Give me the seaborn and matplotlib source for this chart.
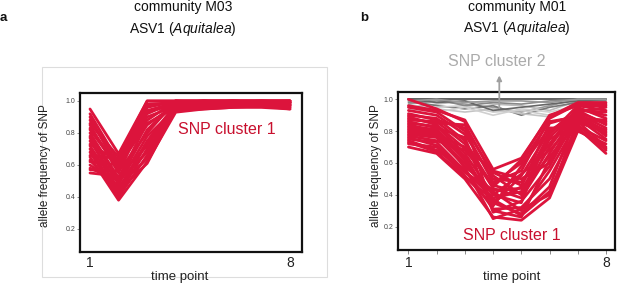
import numpy as np
import pandas as pd
import matplotlib
matplotlib.use("Agg")
import matplotlib.pyplot as plt
import seaborn as sns
from matplotlib.patches import Rectangle

# ---------------- data ----------------
time_points = [1, 2, 3, 4, 5, 6, 7, 8]

# panel a: community M03, SNP cluster 1
m03_cluster1 = [
    [0.95, 0.67, 1.00, 1.00, 1.00, 1.00, 1.00, 1.00],
    [0.92, 0.62, 0.98, 0.99, 0.99, 1.00, 0.99, 0.99],
    [0.88, 0.60, 0.96, 1.00, 0.98, 0.99, 0.99, 0.98],
    [0.85, 0.55, 0.93, 0.98, 1.00, 0.98, 0.98, 0.97],
    [0.82, 0.58, 0.90, 0.97, 0.97, 0.97, 0.97, 0.96],
    [0.80, 0.52, 0.86, 0.96, 0.99, 0.99, 1.00, 1.00],
    [0.78, 0.50, 0.82, 0.99, 1.00, 0.98, 0.99, 0.99],
    [0.75, 0.48, 0.78, 0.95, 0.96, 0.97, 0.97, 0.95],
    [0.72, 0.45, 0.75, 0.98, 0.99, 1.00, 0.99, 0.98],
    [0.70, 0.42, 0.70, 0.94, 0.95, 0.96, 0.97, 0.96],
    [0.68, 0.40, 0.66, 0.97, 0.98, 0.99, 0.98, 0.97],
    [0.65, 0.38, 0.62, 0.93, 0.95, 0.96, 0.96, 0.95],
    [0.63, 0.44, 0.61, 0.95, 0.97, 0.98, 0.98, 0.99],
    [0.60, 0.47, 0.64, 0.96, 0.98, 0.97, 0.99, 0.98],
    [0.58, 0.50, 0.68, 0.99, 1.00, 1.00, 1.00, 1.00],
    [0.55, 0.53, 0.72, 0.97, 0.99, 0.99, 0.99, 0.99],
    [0.57, 0.56, 0.80, 1.00, 1.00, 1.00, 1.00, 1.00],
    [0.62, 0.60, 0.85, 0.98, 0.99, 0.98, 0.99, 0.97],
    [0.66, 0.64, 0.92, 1.00, 0.99, 1.00, 1.00, 0.99],
    [0.90, 0.57, 0.97, 0.99, 1.00, 0.99, 1.00, 1.00],
    [0.86, 0.65, 1.00, 1.00, 1.00, 1.00, 0.99, 1.00],
    [0.77, 0.43, 0.74, 0.96, 0.97, 0.99, 0.98, 0.97],
    [0.83, 0.59, 0.88, 1.00, 1.00, 1.00, 1.00, 0.99],
    [0.73, 0.62, 0.94, 0.99, 0.98, 1.00, 0.99, 0.98],
]

# panel b: community M01, SNP cluster 1 (red)
m01_cluster1 = [
    [1.00, 0.94, 0.86, 0.30, 0.26, 0.62, 0.92, 0.95],
    [0.95, 0.92, 0.80, 0.48, 0.55, 0.88, 0.97, 0.97],
    [0.90, 0.88, 0.74, 0.45, 0.62, 0.90, 0.96, 0.93],
    [0.88, 0.85, 0.84, 0.52, 0.40, 0.70, 0.94, 0.90],
    [0.85, 0.83, 0.66, 0.40, 0.35, 0.80, 0.92, 0.85],
    [0.82, 0.80, 0.62, 0.36, 0.45, 0.85, 0.90, 0.80],
    [0.80, 0.78, 0.70, 0.55, 0.50, 0.60, 0.88, 0.75],
    [0.78, 0.76, 0.58, 0.42, 0.30, 0.55, 0.86, 0.70],
    [0.75, 0.73, 0.55, 0.38, 0.42, 0.75, 0.84, 0.68],
    [0.72, 0.70, 0.52, 0.33, 0.58, 0.82, 0.82, 0.66],
    [0.70, 0.66, 0.50, 0.26, 0.24, 0.38, 0.80, 0.72],
    [0.93, 0.90, 0.78, 0.50, 0.48, 0.72, 0.95, 0.88],
    [0.87, 0.86, 0.72, 0.44, 0.38, 0.66, 0.93, 0.92],
    [0.83, 0.81, 0.64, 0.35, 0.28, 0.45, 0.91, 0.82],
    [0.77, 0.74, 0.68, 0.47, 0.60, 0.86, 0.89, 0.78],
    [0.74, 0.68, 0.56, 0.31, 0.32, 0.50, 0.83, 0.74],
    [0.91, 0.87, 0.82, 0.54, 0.46, 0.78, 0.96, 0.96],
    [0.79, 0.77, 0.60, 0.40, 0.53, 0.68, 0.87, 0.86],
    [0.86, 0.82, 0.76, 0.29, 0.36, 0.58, 0.90, 0.77],
    [0.76, 0.71, 0.54, 0.43, 0.44, 0.64, 0.85, 0.81],
    [0.96, 0.93, 0.87, 0.56, 0.63, 0.89, 0.98, 0.98],
    [0.73, 0.67, 0.51, 0.37, 0.27, 0.42, 0.81, 0.69],
    [0.89, 0.84, 0.69, 0.46, 0.41, 0.76, 0.93, 0.84],
    [0.81, 0.79, 0.63, 0.34, 0.52, 0.80, 0.88, 0.87],
    [0.84, 0.80, 0.57, 0.25, 0.31, 0.40, 0.86, 0.79],
]

# panel b: community M01, SNP cluster 2 (grey)
m01_cluster2 = [
    [1.00, 1.00, 1.00, 1.00, 1.00, 1.00, 1.00, 1.00],
    [0.97, 0.99, 0.97, 0.95, 0.92, 0.96, 1.00, 1.00],
    [0.95, 0.97, 0.99, 0.97, 0.96, 0.93, 0.99, 0.99],
    [0.99, 0.96, 0.94, 0.96, 0.90, 0.95, 0.98, 1.00],
    [0.93, 0.95, 0.96, 0.92, 0.93, 0.90, 0.97, 0.98],
    [0.98, 1.00, 0.96, 0.98, 0.97, 0.99, 1.00, 0.99],
    [0.96, 0.94, 0.92, 0.94, 0.91, 0.89, 0.98, 0.97],
    [1.00, 0.98, 0.99, 0.93, 0.95, 0.97, 0.99, 1.00],
    [0.94, 0.92, 0.95, 0.90, 0.94, 0.92, 0.96, 0.98],
    [0.99, 1.00, 0.98, 0.99, 0.99, 0.98, 1.00, 1.00],
]
cluster2_shades = ["#444444", "#9a9a9a", "#bbbbbb", "#777777", "#cccccc",
                   "#888888", "#c4c4c4", "#666666", "#d0d0d0", "#999999"]

y_ticks = [0.2, 0.4, 0.6, 0.8, 1.0]
y_ticklabels = ["0.2", "0.4", "0.6", "0.8", "1.0"]


def to_long(series_list):
    rows = []
    for i, vals in enumerate(series_list):
        for t, v in zip(time_points, vals):
            rows.append({"snp": i, "time": t, "freq": v})
    return pd.DataFrame(rows)


df_a = to_long(m03_cluster1)
df_b1 = to_long(m01_cluster1)
df_b2 = to_long(m01_cluster2)

# ---------------- style ----------------
sns.set_theme(style="white")
plt.rcParams["font.family"] = ["Liberation Sans", "DejaVu Sans"]
plt.rcParams["mathtext.fontset"] = "custom"
plt.rcParams["mathtext.it"] = "Liberation Sans:italic"
plt.rcParams["mathtext.rm"] = "Liberation Sans"

RED = "#dc143c"
W, H = 617, 285
fig = plt.figure(figsize=(W / 100, H / 100), dpi=100)


def fx(px):
    return px / W


def fy(py):
    return 1 - py / H


# light grey frame around panel a
fig.patches.append(Rectangle((fx(42), fy(277)), fx(327) - fx(42), fy(67) - fy(277),
                             transform=fig.transFigure, fill=False,
                             edgecolor="#dddddd", linewidth=0.8, zorder=0))

ax_a = fig.add_axes([fx(80), fy(252), fx(302) - fx(80), fy(93) - fy(252)])
ax_b = fig.add_axes([fx(398), fy(250), fx(615) - fx(398), fy(92) - fy(250)])

# panel a lines
sns.lineplot(data=df_a, x="time", y="freq", units="snp", estimator=None,
             color=RED, linewidth=2.0, ax=ax_a, legend=False)

# panel b lines
sns.lineplot(data=df_b2, x="time", y="freq", units="snp", hue="snp",
             estimator=None, palette=cluster2_shades, linewidth=1.2,
             ax=ax_b, legend=False)
sns.lineplot(data=df_b1, x="time", y="freq", units="snp", estimator=None,
             color=RED, linewidth=2.0, ax=ax_b, legend=False)

for ax in (ax_a, ax_b):
    for s in ax.spines.values():
        s.set_visible(True)
        s.set_color("#111111")
        s.set_linewidth(1.6)
    ax.set_yticks(y_ticks)
    ax.set_yticklabels(y_ticklabels)
    ax.tick_params(axis="y", left=True, length=2.5, width=0.6, color="#777777",
                   labelsize=5, labelcolor="#444444", pad=1)
    ax.set_xlabel("")
    ax.set_ylabel("")

ax_a.set_xlim(0.65, 8.42)
ax_a.set_ylim(0.056, 1.05)
ax_a.set_xticks([1, 8])
ax_a.set_xticklabels(["1", "8"])
ax_a.tick_params(axis="x", bottom=False, length=0, labelsize=10, pad=3,
                 labelcolor="#222222")

ax_b.set_xlim(0.63, 8.32)
ax_b.set_ylim(0.053, 1.046)
ax_b.set_xticks(time_points)
ax_b.set_xticklabels(["1", "", "", "", "", "", "", "8"])
ax_b.tick_params(axis="x", bottom=True, length=3, width=0.6, color="#777777",
                 labelsize=10, pad=1.5, labelcolor="#222222")

# axis labels
fig.text(fx(45), fy(166), "allele frequency of SNP", rotation=90,
         ha="center", va="center", fontsize=8.5, color="#222222")
fig.text(fx(376), fy(166), "allele frequency of SNP", rotation=90,
         ha="center", va="center", fontsize=8.5, color="#222222")
fig.text(fx(180), fy(277), "time point", ha="center", va="center",
         fontsize=9.5, color="#222222")
fig.text(fx(512), fy(277), "time point", ha="center", va="center",
         fontsize=9.5, color="#222222")

# titles
fig.text(fx(183), fy(7), "community M03", ha="center", va="center",
         fontsize=10, color="#111111")
fig.text(fx(183), fy(29), "ASV1 ($\\it{Aquitalea}$)", ha="center", va="center",
         fontsize=10, color="#111111")
fig.text(fx(517), fy(7), "community M01", ha="center", va="center",
         fontsize=10, color="#111111")
fig.text(fx(517), fy(28), "ASV1 ($\\it{Aquitalea}$)", ha="center", va="center",
         fontsize=10, color="#111111")

# panel letters
fig.text(fx(0), fy(18), "a", ha="left", va="center", fontsize=9.5,
         fontweight="bold", color="#111111")
fig.text(fx(360), fy(18), "b", ha="left", va="center", fontsize=9.5,
         fontweight="bold", color="#111111")

# cluster annotations
fig.text(fx(227), fy(129), "SNP cluster 1", ha="center", va="center",
         fontsize=11.5, color="#c8102e")
fig.text(fx(512), fy(235), "SNP cluster 1", ha="center", va="center",
         fontsize=11.5, color="#c8102e")
fig.text(fx(497), fy(62), "SNP cluster 2", ha="center", va="center",
         fontsize=11.5, color="#ababab")
ax_b.annotate("", xy=(4.22, 1.15), xytext=(4.22, 0.945),
              annotation_clip=False,
              arrowprops=dict(arrowstyle="-|>", color="#a0a0a0", lw=1.3,
                              mutation_scale=7, shrinkA=0, shrinkB=0))

fig.savefig("out.png", dpi=100)
